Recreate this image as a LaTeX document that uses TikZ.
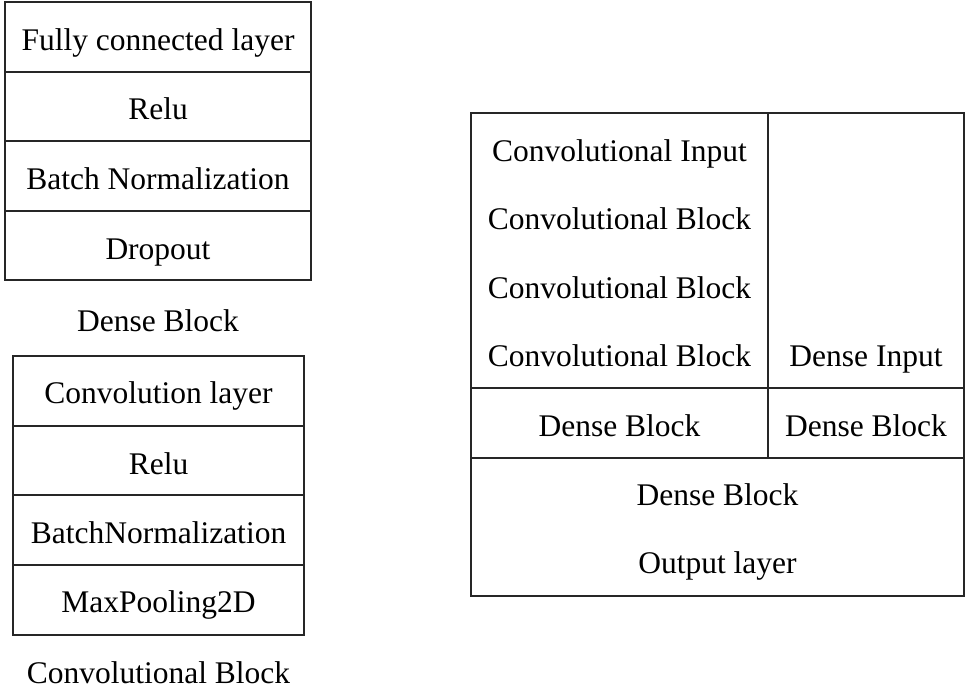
\documentclass[tikz,border=0pt]{standalone}
\usepackage{fontspec}
\setmainfont{Liberation Serif}
\begin{document}
\begin{tikzpicture}[x=1pt,y=-1pt,
  cell/.style={draw=black!85,line width=1.1pt,rectangle,inner sep=0pt,outer sep=0pt},
  txt/.style={anchor=base,inner sep=0pt,font=\fontsize{31.5}{38}\selectfont}]
\useasboundingbox (0,0) rectangle (968,692);
% Dense block table
\node[cell,minimum width=306pt,minimum height=70pt] (da) at (158,37) {};
\node[cell,minimum width=306pt,minimum height=69pt] (db) at (158,106.5) {};
\node[cell,minimum width=306pt,minimum height=70pt] (dc) at (158,176) {};
\node[cell,minimum width=306pt,minimum height=69pt] (dd) at (158,245.5) {};
\node[txt] (ta) at (158,51) {Fully connected layer};
\node[txt] (tb) at (158,120) {Relu};
\node[txt] (tc) at (158,190) {Batch Normalization};
\node[txt] (td) at (158,259.3) {Dropout};
\node[txt] (tdense) at (158,331) {Dense Block};
% Convolutional block table
\node[cell,minimum width=291pt,minimum height=70pt] (ca) at (158.5,391) {};
\node[cell,minimum width=291pt,minimum height=69pt] (cb) at (158.5,460.5) {};
\node[cell,minimum width=291pt,minimum height=70pt] (cc) at (158.5,530) {};
\node[cell,minimum width=291pt,minimum height=70pt] (cd) at (158.5,600) {};
\node[txt] (sa) at (158.5,403.5) {Convolution layer};
\node[txt] (sb) at (158.5,474.3) {Relu};
\node[txt] (sc) at (158.5,543.5) {BatchNormalization};
\node[txt] (sd) at (158.5,612.7) {MaxPooling2D};
\node[txt] (tconv) at (158.5,683) {Convolutional Block};
% Model table
\node[cell,minimum width=297pt,minimum height=275pt] (ma) at (619.5,250.5) {};
\node[cell,minimum width=196pt,minimum height=275pt] (mb) at (866,250.5) {};
\node[cell,minimum width=297pt,minimum height=70pt] (mc) at (619.5,423) {};
\node[cell,minimum width=196pt,minimum height=70pt] (md) at (866,423) {};
\node[cell,minimum width=493pt,minimum height=138pt] (me) at (717.5,527) {};
\node[txt] (r1) at (619.5,161.7) {Convolutional Input};
\node[txt] (r2) at (619.5,229.5) {Convolutional Block};
\node[txt] (r3) at (619.5,298.3) {Convolutional Block};
\node[txt] (r4) at (619.5,366.7) {Convolutional Block};
\node[txt] (r5) at (866,366.7) {Dense Input};
\node[txt] (r6) at (619.5,436) {Dense Block};
\node[txt] (r7) at (866,436) {Dense Block};
\node[txt] (r8) at (717.5,505) {Dense Block};
\node[txt] (r9) at (717.5,573.3) {Output layer};
\end{tikzpicture}
\end{document}
